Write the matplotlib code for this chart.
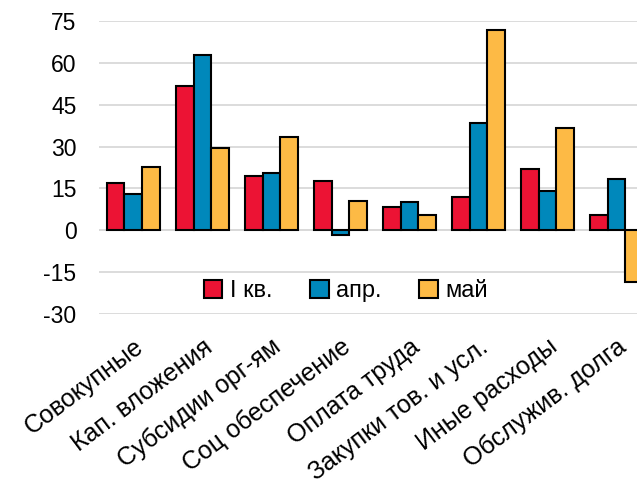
import matplotlib.pyplot as plt
import numpy as np

categories = ["Совокупные", "Кап. вложения", "Субсидии орг-ям", "Соц обеспечение",
              "Оплата труда", "Закупки тов. и усл.", "Иные расходы", "Обслужив. долга"]
q1 = [16.9, 51.6, 19.3, 17.6, 8.5, 11.8, 21.9, 5.4]
apr = [12.9, 62.8, 20.5, -1.9, 10.0, 38.4, 14.2, 18.5]
may = [22.6, 29.4, 33.4, 10.3, 5.3, 71.7, 36.7, -18.7]
series_names = ["I кв.", "апр.", "май"]
colors = ["#EC1334", "#0088BB", "#FDBA45"]
yticks = [-30, -15, 0, 15, 30, 45, 60, 75]

plt.rcParams['font.family'] = ['Liberation Sans', 'DejaVu Sans']

fig = plt.figure(figsize=(6.37, 4.82), dpi=100)
ax = fig.add_axes([0.155, 0.349, 0.867, 0.607])

x = np.arange(len(categories))
w = 0.254
for i, (vals, name, c) in enumerate(zip([q1, apr, may], series_names, colors)):
    ax.bar(x + (i - 1) * w, vals, width=w, color=c, edgecolor="black",
           linewidth=1.5, label=name, zorder=3)

ax.set_xlim(-0.5, len(categories) - 0.5)
ax.set_ylim(-30, 75)
ax.set_yticks(yticks)
ax.set_yticklabels([str(t) for t in yticks], fontsize=16.5)
ax.yaxis.grid(True, color="#d9d9d9", linewidth=1.3, zorder=0)
ax.axhline(0, color="#d9d9d9", linewidth=1.3, zorder=1)
ax.tick_params(axis="y", length=0, pad=16)
for s in ax.spines.values():
    s.set_visible(False)

ax.set_xticks(x)
ax.set_xticklabels(categories, rotation=37, ha="right", rotation_mode="anchor", fontsize=18)
ax.tick_params(axis="x", length=0, pad=15)
for lbl in ax.get_xticklabels():
    lbl.set_x(lbl.get_position()[0])

ax.legend(loc="center", bbox_to_anchor=(0.447, 0.078), ncol=3, frameon=False,
          fontsize=17, handlelength=0.8, handleheight=0.8, handletextpad=0.3,
          columnspacing=1.6, borderpad=0)

fig.savefig("out.png", dpi=100)
